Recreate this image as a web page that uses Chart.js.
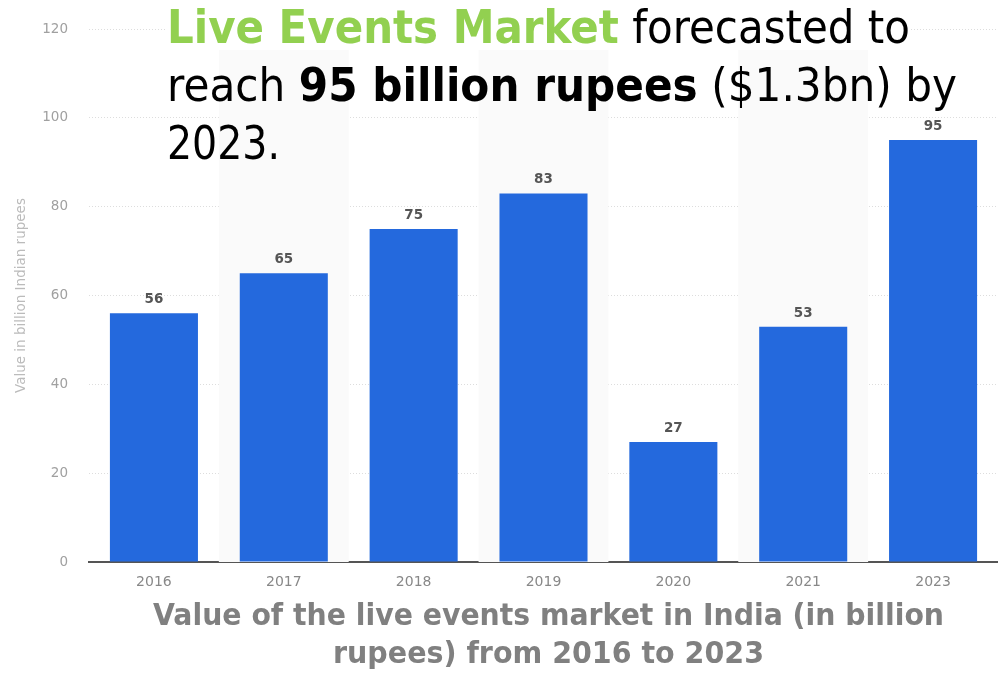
<!DOCTYPE html>
<html>
<head>
<meta charset="utf-8">
<script src="https://cdn.jsdelivr.net/npm/chart.js@4"></script>
<style>
  body { margin: 0; background: #fff; }
  #wrap { position: relative; width: 998px; height: 673px; overflow: hidden; }
  .line { position: absolute; white-space: nowrap; transform-origin: 0 0; font-family: Tahoma, "DejaVu Sans", sans-serif; }
  .head { font-size: 46px; line-height: 46px; color: #000; }
  .cap { font-size: 30px; line-height: 30px; font-weight: bold; color: #808080; }
  .green { color: #92d050; font-weight: bold; }
</style>
</head>
<body>
<div id="wrap">
  <canvas id="chart"></canvas>
  <div class="line head" id="h1" style="background:#fff"><span class="green">Live Events Market</span> forecasted to</div>
  <div class="line head" id="h2">reach <b>95 billion rupees</b> ($1.3bn) by</div>
  <div class="line head" id="h3">2023.</div>
  <div class="line cap" id="c1">Value of the live events market in India (in billion</div>
  <div class="line cap" id="c2">rupees) from 2016 to 2023</div>
</div>
<script>
// data
const years = ["2016", "2017", "2018", "2019", "2020", "2021", "2023"];
const values = [56, 65, 75, 83, 27, 53, 95];
const yMax = 120;
const yStep = 20;
const yTitle = "Value in billion Indian rupees";

// squeeze each text line to the width it has in the picture
function fitLine(id, left, top, width) {
    const el = document.getElementById(id);
    el.style.left = left + "px";
    el.style.top = top + "px";
    const w = el.getBoundingClientRect().width;
    el.style.transform = "scaleX(" + (width / w) + ")";
}
fitLine("h1", 167, 3.5, 743);
fitLine("h2", 167, 62, 790);
fitLine("h3", 167, 120, 113);
fitLine("c1", 153, 599.5, 791);
fitLine("c2", 333, 637.5, 431);

// light bands behind every other column, and value labels above bars
const extras = {
    id: "extras",
    beforeDatasetsDraw(chart) {
        const ctx = chart.ctx;
        const x = chart.scales.x;
        const area = chart.chartArea;
        const step = (area.right - area.left) / years.length;
        ctx.save();
        ctx.fillStyle = "#fafafa";
        years.forEach((y, i) => {
            if (i % 2 === 1) {
                const c = x.getPixelForValue(i);
                ctx.fillRect(c - step / 2, area.top + 16, step, area.bottom - area.top - 16);
            }
        });
        ctx.restore();
    },
    afterDatasetsDraw(chart) {
        const ctx = chart.ctx;
        const meta = chart.getDatasetMeta(0);
        ctx.save();
        ctx.font = "bold 13.5px 'DejaVu Sans', sans-serif";
        ctx.fillStyle = "#555";
        ctx.textAlign = "center";
        ctx.textBaseline = "alphabetic";
        meta.data.forEach((bar, i) => {
            ctx.fillText(String(values[i]), bar.x, bar.y - 10);
        });
        ctx.restore();
    }
};

new Chart(document.getElementById("chart"), {
    type: "bar",
    data: {
        labels: years,
        datasets: [{
            data: values,
            backgroundColor: "#2469dd",
            borderWidth: 0,
            barPercentage: 0.678,
            categoryPercentage: 1
        }]
    },
    options: {
        responsive: true,
        maintainAspectRatio: false,
        animation: false,
        layout: { padding: { left: 0, right: 0, top: 28.5, bottom: 81 } },
        plugins: {
            legend: { display: false },
            tooltip: { enabled: false }
        },
        scales: {
            x: {
                grid: { display: false, drawTicks: false },
                border: { display: true, color: "#555", width: 2 },
                ticks: {
                    padding: 12,
                    color: "#888",
                    font: { family: "'DejaVu Sans', sans-serif", size: 14 }
                },
                afterFit(scale) { scale.height = 30; }
            },
            y: {
                min: 0,
                max: yMax,
                grid: { color: "#dddddd", drawTicks: false },
                border: { display: false, dash: [1, 2] },
                ticks: {
                    stepSize: yStep,
                    padding: 21,
                    color: "#a0a0a0",
                    font: { family: "'DejaVu Sans', sans-serif", size: 13.5 }
                },
                title: {
                    display: true,
                    text: yTitle,
                    color: "#bbb",
                    padding: { top: 13.5, bottom: 0 },
                    font: { family: "'DejaVu Sans', sans-serif", size: 13.5 }
                },
                afterFit(scale) { scale.width = 89; }
            }
        }
    },
    plugins: [extras]
});
</script>
</body>
</html>
